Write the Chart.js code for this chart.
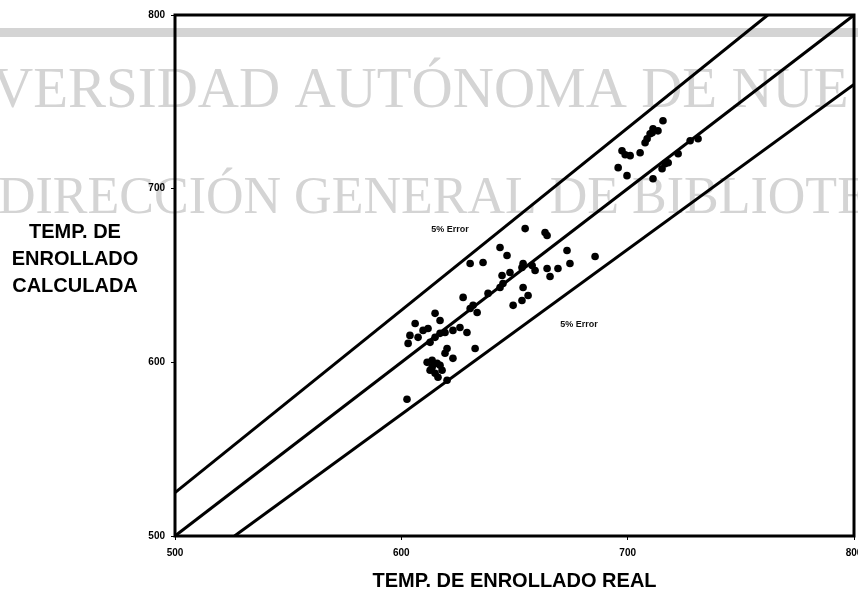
<!DOCTYPE html>
<html>
<head>
<meta charset="utf-8">
<title>Temperatura de enrollado</title>
<script src="https://cdn.jsdelivr.net/npm/chart.js@4"></script>
<style>
  html, body { margin: 0; padding: 0; background: #fff; }
  #wrap { width: 858px; height: 595px; position: relative; }
</style>
</head>
<body>
<div id="wrap"><canvas id="c" width="858" height="595"></canvas></div>
<script>
// Measured coiling temperature (x) vs. calculated coiling temperature (y)
const realTemp = [
  602.5, 606.1, 603.8, 603.0, 607.4, 609.6, 611.8, 612.7, 614.9, 614.9,
  617.1, 617.1, 619.3, 622.8, 625.9, 629.0, 630.4, 633.5, 631.7, 632.6,
  620.2, 619.3, 622.8, 611.4, 613.6, 615.8, 612.7, 614.9, 616.2, 620.2,
  613.6, 618.0, 617.1, 627.3, 638.3,
  654.7, 663.5, 664.4, 643.6, 646.7, 636.1, 630.4, 673.2, 674.5, 669.2,
  664.4, 665.7, 659.1, 657.8, 653.8, 653.3, 648.0, 644.5, 644.9, 643.6,
  653.8, 656.0, 653.3, 649.4, 685.6,
  715.6, 713.4, 711.2, 709.9, 708.6, 707.7, 710.8, 697.5, 701.1, 705.5,
  695.8, 699.7, 711.2, 716.5, 717.9, 722.3, 727.6, 731.1, 715.2, 698.9
];
const calcTemp = [
  578.7, 622.4, 615.5, 610.9, 614.4, 618.4, 619.5, 611.5, 614.4, 628.2,
  624.1, 616.7, 617.2, 618.4, 620.1, 617.2, 631.0, 628.7, 632.8, 608.0,
  608.0, 605.2, 602.3, 600.0, 601.1, 599.4, 595.4, 593.7, 591.4, 589.7,
  597.1, 595.4, 598.3, 637.4, 639.7,
  677.0, 674.7, 673.0, 666.1, 661.5, 657.5, 656.9, 664.4, 656.9, 654.0,
  654.0, 649.4, 652.9, 655.7, 656.9, 654.6, 651.7, 650.0, 645.4, 643.1,
  643.1, 638.5, 635.6, 632.8, 660.9,
  739.1, 733.3, 734.5, 731.6, 728.7, 726.4, 732.2, 721.8, 719.0, 720.7,
  712.1, 707.5, 705.7, 714.4, 714.9, 720.1, 727.6, 728.7, 711.5, 719.5
];

// Reference lines: perfect agreement and the ±5 % error band
const idealX = [500, 800];
const idealY = [500, 800];
const upperX = [500, 761.9];
const upperY = [525, 800];
const lowerX = [526.3, 800];
const lowerY = [500, 760];

const axisMin = 500;
const axisMax = 800;
const axisStep = 100;

const errorLabel = '5% Error';
const errorLabelPos = [[621.5, 676.7], [678.5, 622.0]];

const xTitle = 'TEMP. DE ENROLLADO REAL';
const yTitle = ['TEMP. DE', 'ENROLLADO', 'CALCULADA'];
const watermark = ['VERSIDAD AUTÓNOMA DE NUE', 'DIRECCIÓN GENERAL DE BIBLIOTE'];

const toPoints = (xs, ys) => xs.map((x, i) => ({ x: x, y: ys[i] }));

const lineStyle = {
  type: 'line', showLine: true, borderColor: '#000', borderWidth: 3,
  pointRadius: 0, fill: false, tension: 0, order: 2
};

// Grey library stamp behind the plot
const backdrop = {
  id: 'backdrop',
  beforeDraw(chart) {
    const ctx = chart.ctx;
    ctx.save();
    ctx.fillStyle = '#fff';
    ctx.fillRect(0, 0, chart.width, chart.height);
    ctx.fillStyle = '#d4d4d4';
    ctx.fillRect(0, 28, chart.width, 9);
    ctx.textBaseline = 'alphabetic';
    ctx.textAlign = 'left';
    ctx.font = '57px "Liberation Serif"';
    ctx.fillText(watermark[0], -8, 107);
    ctx.font = '52px "Liberation Serif"';
    ctx.fillText(watermark[1], -2, 213);
    ctx.restore();
  }
};

// Plot frame, band captions and the horizontal y-axis title
const decorations = {
  id: 'decorations',
  afterDatasetsDraw(chart) {
    const { ctx, chartArea: a, scales } = chart;
    ctx.save();
    ctx.strokeStyle = '#000';
    ctx.lineWidth = 3;
    ctx.strokeRect(a.left, a.top, a.right - a.left, a.bottom - a.top);

    ctx.fillStyle = '#111';
    ctx.font = 'bold 9px "Liberation Sans"';
    ctx.textAlign = 'center';
    ctx.textBaseline = 'middle';
    errorLabelPos.forEach(([vx, vy]) => {
      ctx.fillText(errorLabel, scales.x.getPixelForValue(vx), scales.y.getPixelForValue(vy));
    });

    ctx.fillStyle = '#000';
    ctx.font = 'bold 20px "Liberation Sans"';
    const yMid = [232, 259, 286];
    yTitle.forEach((t, i) => ctx.fillText(t, 75, yMid[i]));
    ctx.restore();
  }
};

const tickFont = { family: 'Liberation Sans', size: 10, weight: 'bold' };

new Chart(document.getElementById('c'), {
  type: 'scatter',
  data: {
    datasets: [
      {
        label: 'datos', data: toPoints(realTemp, calcTemp),
        backgroundColor: '#000', borderWidth: 0, pointRadius: 3.8, order: 1
      },
      Object.assign({ label: 'ideal', data: toPoints(idealX, idealY) }, lineStyle),
      Object.assign({ label: '+5%', data: toPoints(upperX, upperY) }, lineStyle),
      Object.assign({ label: '-5%', data: toPoints(lowerX, lowerY) }, lineStyle)
    ]
  },
  options: {
    responsive: false,
    animation: false,
    layout: { padding: { left: 0, top: 15, right: 4, bottom: 0 } },
    plugins: { legend: { display: false }, tooltip: { enabled: false } },
    scales: {
      x: {
        type: 'linear', min: axisMin, max: axisMax,
        ticks: { stepSize: axisStep, color: '#000', font: tickFont, padding: 7, maxRotation: 0 },
        grid: { display: true, drawOnChartArea: false, drawTicks: true, tickLength: 4, color: '#000', lineWidth: 1 },
        border: { display: false },
        title: {
          display: true, text: xTitle, color: '#000',
          font: { family: 'Liberation Sans', size: 20, weight: 'bold' },
          padding: { top: 0, bottom: 2 }
        },
        afterFit(s) { s.height = 59; s.paddingLeft = 0; s.paddingRight = 0; }
      },
      y: {
        type: 'linear', min: axisMin, max: axisMax,
        ticks: { stepSize: axisStep, color: '#000', font: tickFont, padding: 6 },
        grid: { display: true, drawOnChartArea: false, drawTicks: true, tickLength: 4, color: '#000', lineWidth: 1 },
        border: { display: false },
        afterFit(s) { s.width = 175; s.paddingTop = 0; s.paddingBottom = 0; }
      }
    }
  },
  plugins: [backdrop, decorations]
});
</script>
</body>
</html>
